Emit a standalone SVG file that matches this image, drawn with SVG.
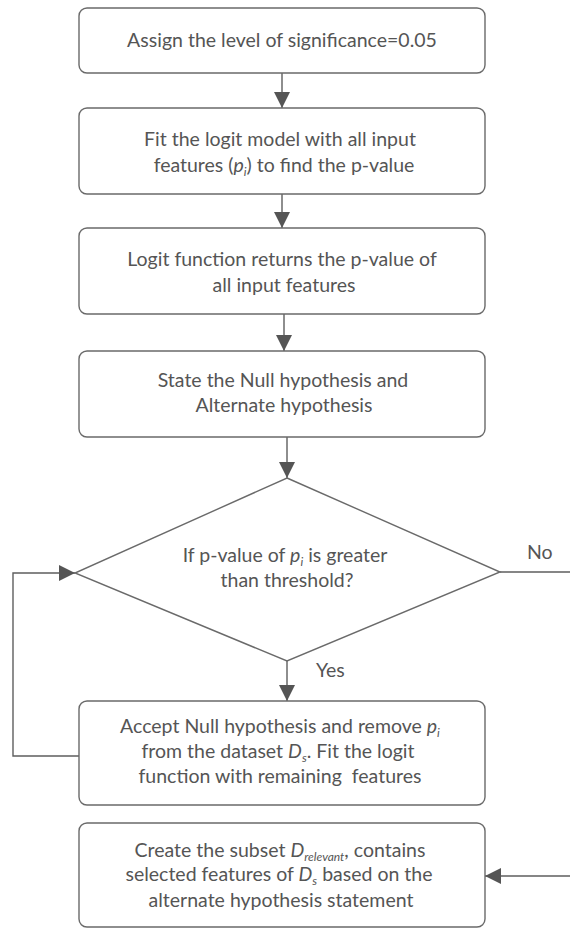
<svg xmlns="http://www.w3.org/2000/svg" width="570" height="929" viewBox="0 0 570 929">
<style>
.box{fill:#fff;stroke:#6a6a6a;stroke-width:1.4}
.ln{fill:none;stroke:#5e5e5e;stroke-width:1.4}
text{font-family:Lato,"Liberation Sans",sans-serif;font-size:19.5px;fill:#555;text-anchor:middle}
.it{font-style:italic}
.sub{font-style:italic;font-size:12px}
.lbl{text-anchor:start}
</style>
<defs>
<marker id="ahb" viewBox="0 0 16 16" refX="16" refY="8" markerWidth="16" markerHeight="16" markerUnits="userSpaceOnUse" orient="auto">
<path d="M0,0 L16,8 L0,16 z" fill="#555"/>
</marker>
</defs>
<g id="connectors">
<line class="ln" x1="282" y1="73" x2="282" y2="108" marker-end="url(#ahb)"/>
<line class="ln" x1="282" y1="194" x2="282" y2="228" marker-end="url(#ahb)"/>
<line class="ln" x1="284" y1="314" x2="284" y2="351" marker-end="url(#ahb)"/>
<line class="ln" x1="287" y1="437" x2="287" y2="478" marker-end="url(#ahb)"/>
<line class="ln" x1="287" y1="661" x2="287" y2="701" marker-end="url(#ahb)"/>
<polyline class="ln" points="79,756 13,756 13,573 75,573" marker-end="url(#ahb)"/>
<line class="ln" x1="500" y1="572" x2="570" y2="572"/>
<line class="ln" x1="570" y1="876" x2="485" y2="876" marker-end="url(#ahb)"/>
<text class="lbl" x="527" y="559">No</text>
<text class="lbl" x="316" y="677">Yes</text>
</g>
<g id="n1">
<rect class="box" x="79" y="8" width="406" height="65" rx="8"/>
<text x="282" y="47">Assign the level of significance=0.05</text>
</g>
<g id="n2">
<rect class="box" x="79" y="108" width="406" height="86" rx="8"/>
<text x="280" y="146">Fit the logit model with all input</text>
<text x="284" y="172">features (<tspan class="it">p</tspan><tspan class="sub" dy="4">i</tspan><tspan dy="-4">) to find the p-value</tspan></text>
</g>
<g id="n3">
<rect class="box" x="79" y="228" width="406" height="86" rx="8"/>
<text x="282" y="266">Logit function returns the p-value of</text>
<text x="284" y="292">all input features</text>
</g>
<g id="n4">
<rect class="box" x="79" y="351" width="406" height="86" rx="8"/>
<text x="283" y="387">State the Null hypothesis and</text>
<text x="284" y="412">Alternate hypothesis</text>
</g>
<g id="n5">
<polygon class="box" points="287,478 500,572 287,661 75,573"/>
<text x="285" y="562">If p-value of <tspan class="it">p</tspan><tspan class="sub" dy="4">i</tspan><tspan dy="-4"> is greater</tspan></text>
<text x="287" y="587">than threshold?</text>
</g>
<g id="n6">
<rect class="box" x="79" y="701" width="406" height="104" rx="8"/>
<text x="280" y="733">Accept Null hypothesis and remove <tspan class="it">p</tspan><tspan class="sub" dy="4">i</tspan></text>
<text x="278" y="758">from the dataset <tspan class="it">D</tspan><tspan class="sub" dy="4">s</tspan><tspan dy="-4">. Fit the logit</tspan></text>
<text x="280" y="783" xml:space="preserve">function with remaining  features</text>
</g>
<g id="n7">
<rect class="box" x="79" y="823" width="406" height="104" rx="8"/>
<text x="280" y="857">Create the subset <tspan class="it">D</tspan><tspan class="sub" dy="4">relevant</tspan><tspan dy="-4">, contains</tspan></text>
<text x="279" y="881">selected features of <tspan class="it">D</tspan><tspan class="sub" dy="4">s</tspan><tspan dy="-4"> based on the</tspan></text>
<text x="281" y="907">alternate hypothesis statement</text>
</g>
</svg>
